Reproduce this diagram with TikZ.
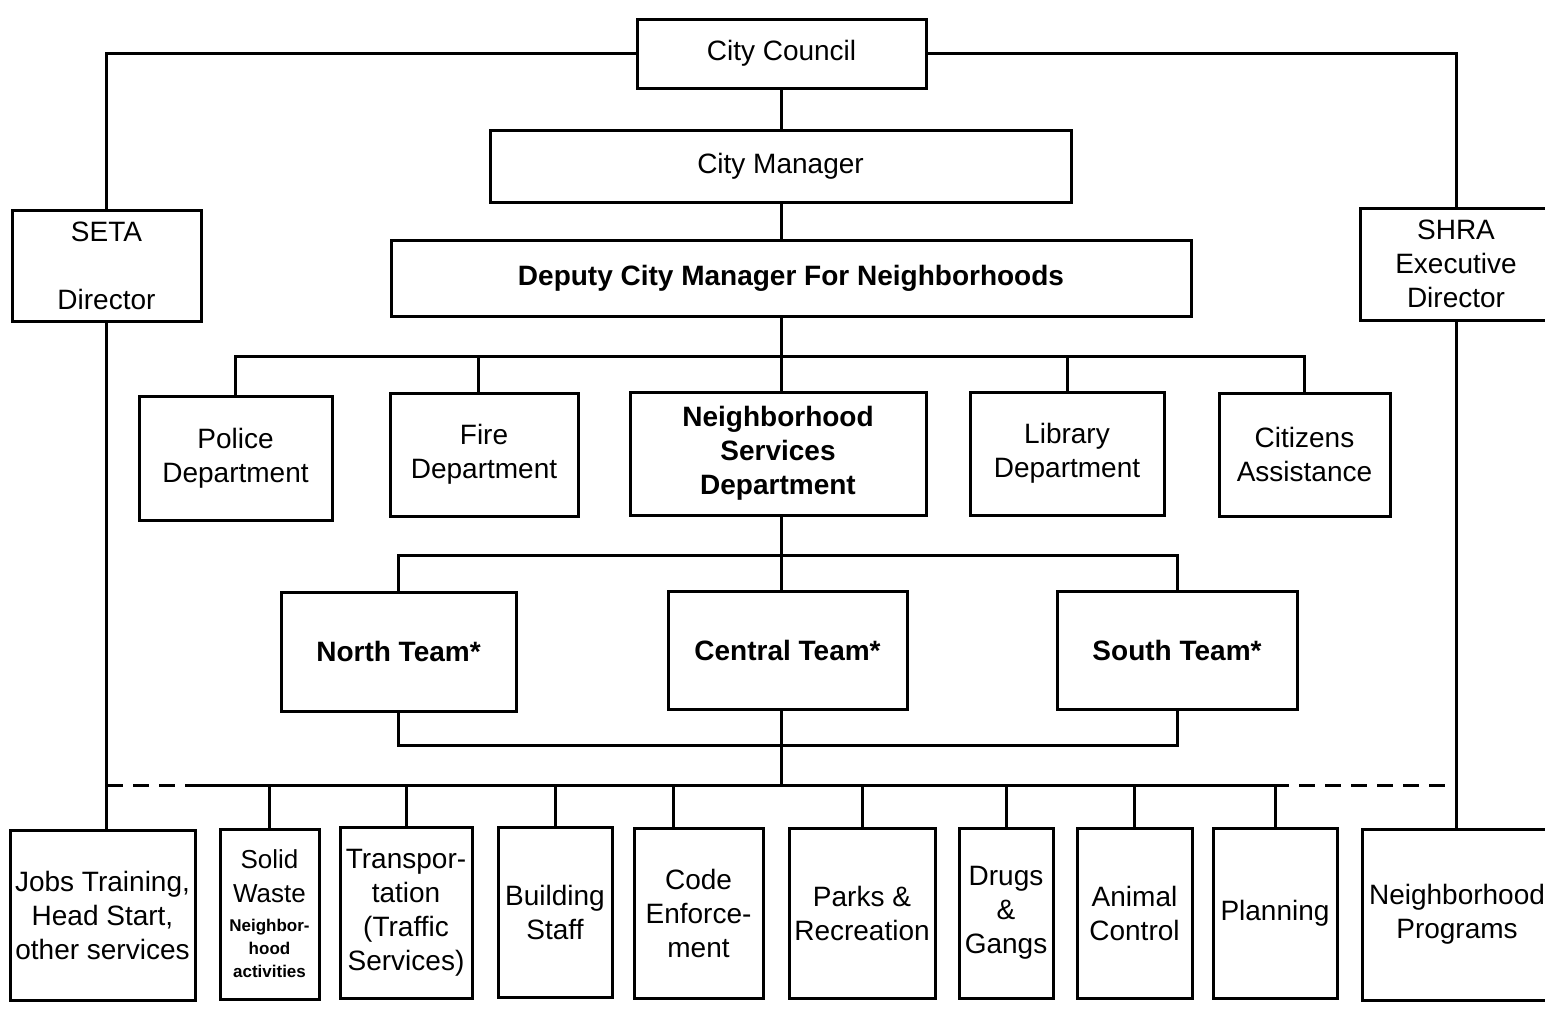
\documentclass[tikz,border=0pt]{standalone}
\usepackage{fontspec}
\setmainfont{Liberation Sans}
\tikzset{
  box/.style={draw, line width=3pt, rectangle, inner sep=0pt, align=center,
              font=\fontsize{28}{34}\selectfont},
  bbox/.style={box, font=\fontsize{28}{34}\selectfont\bfseries},
  conn/.style={line width=3pt},
  dashconn/.style={line width=3pt, dash pattern=on 16pt off 10pt},
}
\newcommand\obox[7][]{\node[box,#1,minimum width={(#5-#3)*1pt},minimum height={(#6-#4)*1pt}] (#2) at ({(#3+#5)/2},{(#4+#6)/2}) {#7};}
\newcommand\smb{\fontsize{17}{22}\selectfont\bfseries}
\newcommand\mdr{\fontsize{26}{34}\selectfont}
\begin{document}
\begin{tikzpicture}[x=1pt,y=-1pt]
\useasboundingbox[fill=white] (0,0) rectangle (1545,1009);
% top
\obox{cc}{637}{19}{926}{88}{City Council}
\obox{cm}{490}{130}{1071}{202}{City Manager}
\obox{seta}{12}{210}{201}{321}{SETA\\[34pt]Director}
\obox{shra}{1360}{208}{1552}{320}{SHRA\\Executive\\Director}
\obox[bbox]{dep}{391}{240}{1191}{316}{Deputy City Manager For Neighborhoods}
% departments
\obox{police}{139}{396}{332}{520}{Police\\Department}
\obox{fire}{390}{393}{578}{516}{Fire\\Department}
\obox[bbox]{nsd}{630}{392}{926}{515}{Neighborhood\\Services\\Department}
\obox{lib}{970}{392}{1164}{515}{Library\\Department}
\obox{cit}{1219}{393}{1390}{516}{Citizens\\Assistance}
% teams
\obox[bbox]{north}{281}{592}{516}{711}{North Team*}
\obox[bbox]{central}{668}{591}{907}{709}{Central Team*}
\obox[bbox]{south}{1057}{591}{1297}{709}{South Team*}
% bottom row
\obox{jobs}{10}{830}{195}{1000}{Jobs Training,\\Head Start,\\other services}
\obox{solid}{220}{829}{319}{999}{\mdr Solid\\\mdr Waste\\[-5pt]\smb Neighbor-\\[-11pt]\smb hood\\[-11pt]\smb activities}
\obox{trans}{340}{827}{472}{998}{Transpor-\\tation\\(Traffic\\Services)}
\obox{bldg}{498}{827}{612}{997}{Building\\Staff}
\obox{code}{634}{828}{763}{998}{Code\\Enforce-\\ment}
\obox{parks}{789}{828}{935}{998}{Parks \&\\Recreation}
\obox{drugs}{959}{828}{1053}{998}{Drugs\\\&\\Gangs}
\obox{animal}{1077}{828}{1192}{998}{Animal\\Control}
\obox{plan}{1213}{828}{1337}{998}{Planning}
\obox{np}{1362}{829}{1552}{1000}{Neighborhood\\Programs}
% coordinates
\coordinate (tb) at (781,356);
\coordinate (mb) at (781,555);
\coordinate (lb) at (781,745);
\coordinate (bus) at (781,785);
\coordinate (busL) at (107,785);
\coordinate (d1) at (190,785);
\coordinate (d2) at (1273,785);
\coordinate (busR) at (1455,785);
% connectors
\draw[conn] (cc.south) -- (cc.south |- cm.north);
\draw[conn] (tb |- cm.south) -- (tb |- dep.north);
\draw[conn] (tb |- dep.south) -- (tb |- nsd.north);
\draw[conn] (police.north) |- (tb) -| (cit.north);
\draw[conn] ([xshift=-6pt]fire.north) -- ([xshift=-6pt]fire.north |- tb);
\draw[conn] (lib.north) -- (lib.north |- tb);
\draw[conn] (tb |- nsd.south) -- (tb |- central.north);
\draw[conn] (north.north) |- (mb) -| (south.north);
\draw[conn] (north.south) |- (lb) -| (south.south);
\draw[conn] (tb |- central.south) -- (bus);
\draw[conn] (cc.west) -| (seta.north);
\draw[conn] (cc.east) -| (shra.north);
\draw[conn] (seta.south) -- (seta.south |- jobs.north);
\draw[conn] (shra.south) -- (shra.south |- np.north);
\draw[dashconn] (busL) -- (d1);
\draw[conn] (d1) -- (d2);
\draw[dashconn] (d2) -- (busR);
\foreach \n in {solid,trans,bldg,parks,drugs,animal,plan}
  \draw[conn] (\n.north |- bus) -- (\n.north);
\draw[conn] ([xshift=-25pt]code.north |- bus) -- ([xshift=-25pt]code.north);
\end{tikzpicture}
\end{document}
